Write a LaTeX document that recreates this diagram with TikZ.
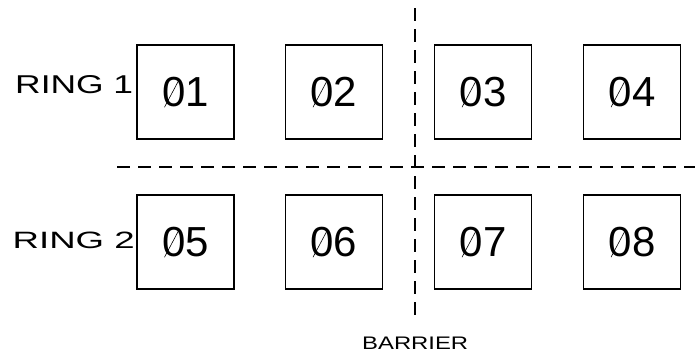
\documentclass[tikz,border=0pt]{standalone}
\usepackage{fontspec}
\setmainfont{Liberation Sans}
\usepackage{graphicx}
\usetikzlibrary{positioning}

% zero with a thin slash through it
\newcommand{\zs}{\makebox[0pt][l]{\hspace{0.05em}\raisebox{-0.03em}{\rotatebox{62}{\rule{0.74em}{0.6pt}}}}0}

\begin{document}
\begin{tikzpicture}[x=1pt, y=-1pt,
    cell/.style={draw, line width=1.3pt, rectangle, inner sep=0pt,
      minimum width=97pt, minimum height=94pt,
      font=\fontsize{42}{42}\selectfont},
    divider/.style={line width=1.8pt, dash pattern=on 13pt off 8pt}]
  \useasboundingbox (0,0) rectangle (695,354);

  % ring 1
  \node[cell] (c01) at (185.5, 92) {\zs1};
  \node[cell] (c02) at (334, 92) {\zs2};
  \node[cell] (c03) at (483, 92) {\zs3};
  \node[cell] (c04) at (632, 92) {\zs4};

  % ring 2
  \node[cell] (c05) at (185.5, 242) {\zs5};
  \node[cell] (c06) at (334, 242) {\zs6};
  \node[cell] (c07) at (483, 242) {\zs7};
  \node[cell] (c08) at (632, 242) {\zs8};

  \node[anchor=base west, inner sep=0pt] (ring1) at (15, 93) {\resizebox{118pt}{18pt}{RING 1}};
  \node[anchor=base west, inner sep=0pt] (ring2) at (12.5, 248) {\resizebox{122pt}{16.5pt}{RING 2}};

  \coordinate (bartop) at (415, 8);
  \coordinate (barbot) at (415, 318);
  \coordinate (rowleft) at (117, 167);
  \coordinate (rowright) at (695, 167);
  \draw[divider] (bartop) -- (barbot);
  \draw[divider] (rowleft) -- (rowright);

  \node[anchor=base west, inner sep=0pt] (barrier) at (362, 349) {\resizebox{106pt}{12.5pt}{BARRIER}};
\end{tikzpicture}
\end{document}
